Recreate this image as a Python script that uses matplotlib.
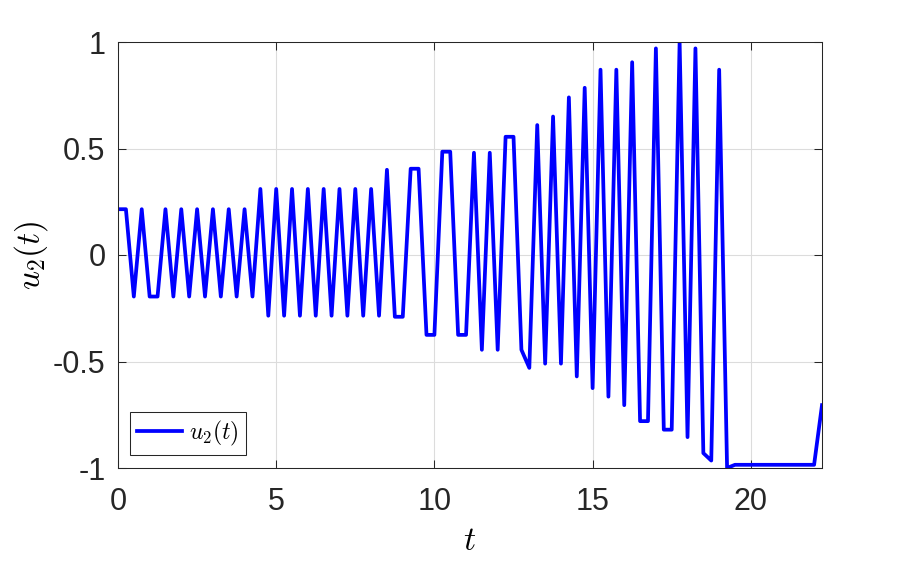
import matplotlib
matplotlib.use('Agg')
import matplotlib.pyplot as plt
import numpy as np

plt.rcParams['font.family'] = ['Liberation Sans', 'DejaVu Sans']
plt.rcParams['mathtext.fontset'] = 'cm'
plt.rcParams['axes.unicode_minus'] = False

# sample times (step 0.25)
t = np.arange(0, 22.25 + 1e-9, 0.25)

# control signal u2(t)
u2 = [0.215, 0.215, -0.195, 0.215, -0.195, -0.195, 0.215, -0.195,
      0.215, -0.195, 0.215, -0.195, 0.215, -0.195, 0.215, -0.195,
      0.215, -0.195,
      0.31, -0.285, 0.31, -0.285, 0.31, -0.285, 0.31, -0.285,
      0.31, -0.285, 0.31, -0.285, 0.31, -0.285, 0.31, -0.285,
      0.40, -0.29, -0.29, 0.405, 0.405, -0.375, -0.375, 0.485,
      0.485, -0.375, -0.375, 0.48, -0.445, 0.48, -0.445, 0.555,
      0.555, -0.445, -0.53, 0.61, -0.51, 0.65, -0.51, 0.74,
      -0.57, 0.785, -0.625, 0.87, -0.665, 0.87, -0.705, 0.905,
      -0.78, -0.78, 0.97, -0.82, -0.82, 1.0, -0.855, 0.97,
      -0.93, -0.965, 0.87, -1.0,
      -0.985, -0.985, -0.985, -0.985, -0.985, -0.985, -0.985, -0.985,
      -0.985, -0.985, -0.985, -0.705]

xticks = [0, 5, 10, 15, 20]
yticks = [-1, -0.5, 0, 0.5, 1]
yticklabels = ['-1', '-0.5', '0', '0.5', '1']

fig = plt.figure(figsize=(9.08, 5.62), dpi=100)
ax = fig.add_axes([118/908, 1 - 468/562, (822-118)/908, (468-42)/562])

ax.plot(t, u2, color=(0, 0, 1), linewidth=2.7, label=r'$u_2(t)$')

ax.set_xlim(0, t[-1])
ax.set_ylim(-1, 1)
ax.set_xticks(xticks)
ax.set_xticklabels([str(v) for v in xticks])
ax.set_yticks(yticks)
ax.set_yticklabels(yticklabels)

ax.grid(True, color='#dcdcdc', linewidth=0.8)
ax.set_axisbelow(True)
ax.tick_params(direction='in', length=6, width=0.75, top=True, right=True,
               labelsize=22, colors='#262626')
ax.tick_params(axis='x', pad=14)
ax.tick_params(axis='y', pad=9)
for s in ax.spines.values():
    s.set_linewidth(0.75)
    s.set_color('#262626')

ax.set_xlabel(r'$t$', fontsize=24, labelpad=6)
ax.set_ylabel(r'$u_2(t)$', fontsize=24, labelpad=2)

leg = ax.legend(loc='lower left', fontsize=17, fancybox=False, framealpha=1,
                edgecolor='#262626', handlelength=1.9, borderpad=0.3,
                handletextpad=0.3, borderaxespad=0,
                bbox_to_anchor=(0.017, 0.03))
leg.get_frame().set_linewidth(0.75)

fig.savefig('out.png', dpi=100)
